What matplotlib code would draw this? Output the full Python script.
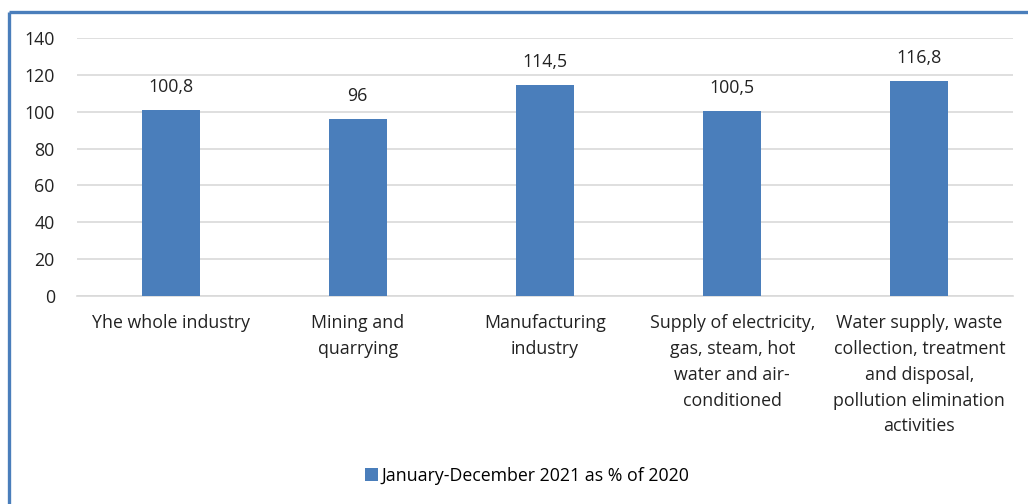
import numpy as np
import matplotlib.pyplot as plt
from matplotlib.lines import Line2D

# data
categories = ['Yhe whole industry', 'Mining and\nquarrying', 'Manufacturing\nindustry',
              'Supply of electricity,\ngas, steam, hot\nwater and air-\nconditioned',
              'Water supply, waste\ncollection, treatment\nand disposal,\npollution elimination\nactivities']
values = [100.8, 96, 114.5, 100.5, 116.8]
series_name = 'January-December 2021 as % of 2020'

bar_color = '#4A7EBB'
text_color = '#222222'
fs = 12.8
plt.rcParams['font.family'] = ['Open Sans', 'DejaVu Sans']

fig = plt.figure(figsize=(10.28, 5.04), dpi=100)
ax = fig.add_axes([0.0749, 0.4127, 0.9105, 0.5119])

x = np.arange(len(categories))
bars = ax.bar(x, values, width=0.31, color=bar_color, label=series_name, zorder=3)

ax.set_ylim(0, 140)
ax.set_xlim(-0.5, len(categories) - 0.5)
ax.set_yticks(np.arange(0, 141, 20))
ax.yaxis.grid(True, color='#D9D9D9', linewidth=1.2, zorder=0)
ax.tick_params(axis='both', length=0, labelsize=fs, colors=text_color)
ax.tick_params(axis='y', pad=16)
ax.set_xticks(x)
ax.set_xticklabels(categories, fontsize=fs, linespacing=1.56, color=text_color)
ax.tick_params(axis='x', pad=13)
for s in ['top', 'right', 'left']:
    ax.spines[s].set_visible(False)
ax.spines['bottom'].set_color('#D9D9D9')
ax.spines['bottom'].set_linewidth(1.2)

# data labels with comma decimals
for b, v in zip(bars, values):
    txt = ('%g' % v).replace('.', ',')
    ax.annotate(txt, (b.get_x() + b.get_width() / 2, v), xytext=(0, 10),
                textcoords='offset points', ha='center', va='bottom',
                fontsize=fs, color=text_color)

fig.legend(loc='center', bbox_to_anchor=(0.513, 0.056), frameon=False,
           fontsize=fs, handlelength=0.7, handleheight=0.7, handletextpad=0.2)

# blue frame (top and left edges visible)
fig.add_artist(Line2D([8.5 / 1028, 1], [1 - 12 / 504, 1 - 12 / 504], transform=fig.transFigure,
                      color=bar_color, linewidth=2.4, solid_capstyle='butt'))
fig.add_artist(Line2D([8.5 / 1028, 8.5 / 1028], [0, 1 - 12 / 504], transform=fig.transFigure,
                      color=bar_color, linewidth=2.4, solid_capstyle='butt'))

fig.savefig('out.png', dpi=100)
